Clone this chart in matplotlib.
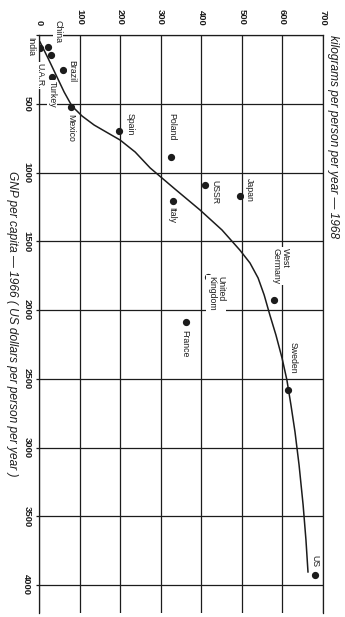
import matplotlib
matplotlib.use("Agg")
import matplotlib.pyplot as plt

plt.rcParams['font.family'] = ['Liberation Sans', 'DejaVu Sans']

# Data: steel use (kg per person, 1968) against GNP per capita (1966)
countries = ['India', 'China', 'U.A.R.', 'Brazil', 'Turkey', 'Mexico', 'Spain',
             'Poland', 'USSR', 'Japan', 'Italy', 'United\nKingdom',
             'West\nGermany', 'France', 'Sweden', 'US']
steel_kg = [3, 22, 30, 59, 32, 79, 197, 325, 409, 495, 330, 417, 579, 362, 614, 680]
gnp = [95, 90, 145, 255, 305, 524, 698, 887, 1091, 1171, 1207, 1760, 1927, 2087, 2582, 3927]

# Trend curve
curve_kg = [2.5, 22, 42, 62, 81, 106, 136, 170, 200, 237, 274, 335, 397, 451, 495,
            520, 540, 555, 569, 584, 599, 611, 621, 631, 641, 651, 658, 663]
curve_gnp = [51, 167, 291, 415, 516, 589, 655, 713, 764, 851, 967, 1120, 1273, 1418,
             1564, 1658, 1767, 1891, 2036, 2182, 2349, 2509, 2691, 2887, 3127, 3418,
             3673, 3905]

kg_ticks = [0, 100, 200, 300, 400, 500, 600, 700]
gnp_ticks = [0, 500, 1000, 1500, 2000, 2500, 3000, 3500, 4000]

# label offsets from each dot, in pixels (dx right, dy up), text starts at offset
label_offsets = [(-9, 11), (10, 27), (-11, -8), (9, 10), (0, -4), (0, -7), (11, 18),
                 (1, 44), (10, 5), (10, 18), (-1, -6), (8, 1),
                 (7, 52), (-1, -8), (5, 48), (0, 20)]

ink = '#1c1c1c'

fig = plt.figure(figsize=(3.45, 6.17), dpi=100)
ax = fig.add_axes([39 / 345, 1 - 612.5 / 617, 284 / 345, (612.5 - 35) / 617])

ax.plot(curve_kg, curve_gnp, color=ink, lw=1.1, zorder=3)
ax.plot(steel_kg, gnp, 'o', color=ink, ms=4.2, zorder=4)

for name, x, y, (dx, dy) in zip(countries, steel_kg, gnp, label_offsets):
    ax.annotate(name, xy=(x, y), xytext=(dx, dy), textcoords='offset pixels',
                rotation=-90, ha='center', va='top', fontsize=6.3, color=ink,
                linespacing=1.0, multialignment='left', zorder=5,
                bbox=dict(boxstyle='square,pad=0.1', fc='white', ec='none'))

ax.set_xlim(0, 700)
ax.set_ylim(4200, 0)
ax.set_xticks(kg_ticks)
ax.set_yticks(gnp_ticks)
ax.set_xticklabels([str(v) for v in kg_ticks], rotation=-90, fontsize=6.8,
                   fontweight='bold', color=ink)
ax.set_yticklabels([''] + [str(v) for v in gnp_ticks[1:]], rotation=-90,
                   fontsize=6.8, fontweight='bold', color=ink, va='center')
ax.xaxis.set_ticks_position('top')
ax.tick_params(axis='x', length=0, pad=7)
ax.tick_params(axis='y', length=2.5, width=0.9, color=ink, direction='out', pad=3)

ax.grid(True, color=ink, lw=0.9)
ax.set_axisbelow(True)
for side in ['left', 'top', 'right']:
    ax.spines[side].set_color(ink)
    ax.spines[side].set_linewidth(0.9)
ax.spines['bottom'].set_visible(False)

ax.annotate('kilograms per person per year — 1968', xy=(1, 1), xycoords='axes fraction',
            xytext=(10, 0), textcoords='offset pixels', rotation=-90,
            ha='center', va='top', fontsize=8.6, style='italic', color=ink)
ax.set_ylabel('GNP per capita — 1966 ( US dollars per person per year )',
              rotation=-90, fontsize=8.6, style='italic', color=ink, labelpad=12)

fig.savefig('out.png', dpi=100, facecolor='white')
